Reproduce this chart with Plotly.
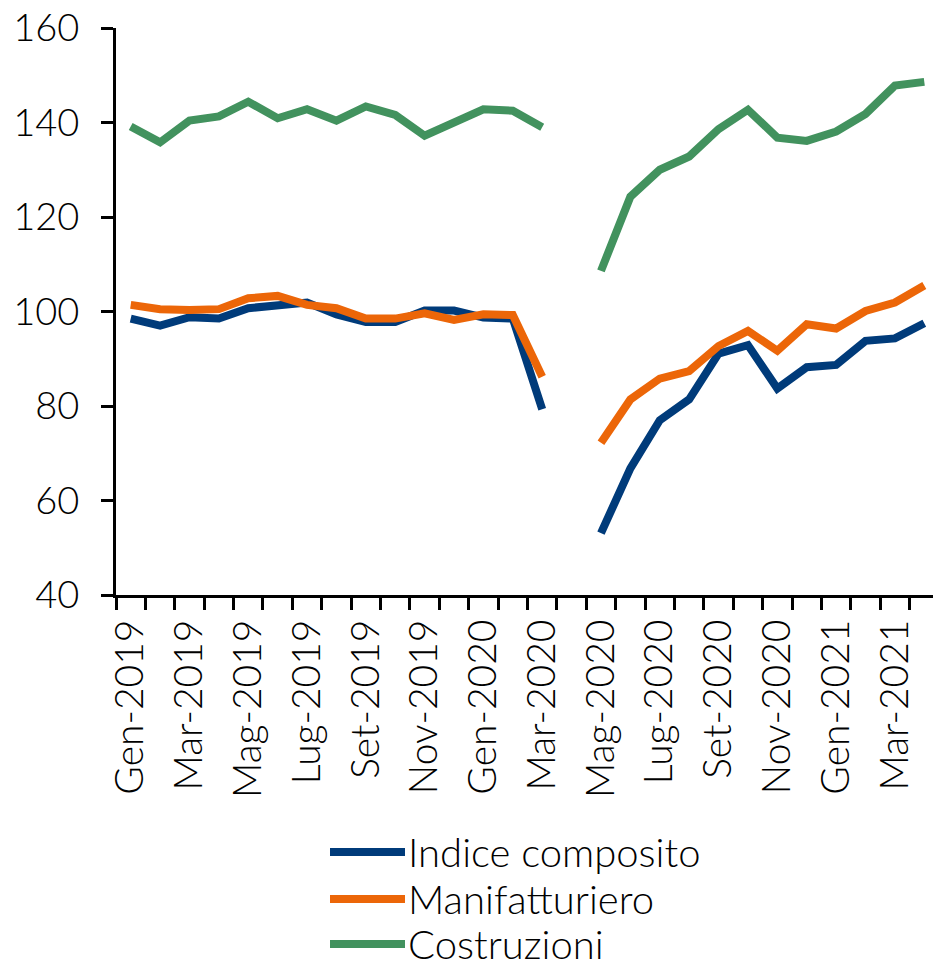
import plotly.graph_objects as go

# Mesi da Gen-2019 a Apr-2021 (Apr-2020 mancante)
mesi = ["Gen", "Feb", "Mar", "Apr", "Mag", "Giu", "Lug", "Ago", "Set", "Ott", "Nov", "Dic"]
categorie = [f"{m}-{a}" for a in (2019, 2020, 2021) for m in mesi][:28]

indice_composito = [98.5, 97.0, 98.8, 98.5, 100.7, 101.2, 101.9, 99.4, 97.8, 97.8, 100.2, 100.2, 98.7, 98.5, 79.3,
                    None,
                    53.1, 66.8, 77.0, 81.4, 91.1, 92.9, 83.7, 88.2, 88.7, 93.8, 94.3, 97.5]
manifatturiero = [101.4, 100.5, 100.3, 100.5, 102.8, 103.3, 101.4, 100.7, 98.5, 98.5, 99.6, 98.2, 99.4, 99.25, 86.2,
                  None,
                  72.2, 81.4, 85.8, 87.4, 92.7, 95.9, 91.7, 97.3, 96.4, 100.1, 101.9, 105.5]
costruzioni = [139.15, 135.8, 140.4, 141.3, 144.4, 140.9, 142.8, 140.4, 143.4, 141.6, 137.2, 140.2, 142.8, 142.5, 139.0,
               None,
               108.6, 124.3, 130.0, 132.8, 138.6, 142.7, 136.8, 136.1, 138.1, 141.8, 147.8, 148.6]

nomi = ["Indice composito", "Manifatturiero", "Costruzioni"]
colori = ["#003B7A", "#EC6608", "#42925E"]
serie = [indice_composito, manifatturiero, costruzioni]

font = "Lato"
peso = 300

fig = go.Figure()
for nome, valori, colore in zip(nomi, serie, colori):
    fig.add_trace(go.Scatter(
        x=categorie, y=valori, mode="lines", name=nome,
        line=dict(color=colore, width=8),
        connectgaps=False, showlegend=False
    ))

# etichette ogni due mesi
ticktext = [c if i % 2 == 0 else "" for i, c in enumerate(categorie)]

# legenda disegnata a mano (linee lunghe come nell'originale)
plot_l, plot_w = 116, 823
plot_b, plot_h = 595, 567
legenda_y = [852, 899, 944]
for nome, colore, py in zip(nomi, colori, legenda_y):
    yp = (plot_b - py) / plot_h
    fig.add_shape(type="line", xref="paper", yref="paper",
                  x0=(330 - plot_l) / plot_w, x1=(405 - plot_l) / plot_w, y0=yp, y1=yp,
                  line=dict(color=colore, width=8))
    fig.add_annotation(text=nome, xref="paper", yref="paper",
                       x=(406 - plot_l) / plot_w, y=yp, xanchor="left", yanchor="middle",
                       showarrow=False, font=dict(family=font, size=40, color="black", weight=peso))

# la pagina html ha un margine di 8px: dimensioni ridotte di conseguenza
fig.update_layout(
    width=933, height=957,
    margin=dict(l=108, r=2, t=20, b=370),
    plot_bgcolor="white", paper_bgcolor="white",
    font=dict(family=font, size=38, color="black", weight=peso),
)
fig.update_xaxes(
    type="category", categoryorder="array", categoryarray=categorie,
    range=[-0.5, 27.5], automargin=False,
    tickmode="array", tickvals=categorie, ticktext=ticktext,
    tickson="boundaries", ticks="outside", ticklen=12, tickwidth=3, tickcolor="black",
    tickangle=-90, tickfont=dict(family=font, size=39, weight=peso),
    showline=True, linewidth=3, linecolor="black",
    showgrid=False, zeroline=False, ticklabelstandoff=6
)
fig.update_yaxes(
    range=[40, 160], dtick=20, tick0=40, automargin=False,
    ticks="outside", ticklen=12, tickwidth=3, tickcolor="black",
    tickfont=dict(family=font, size=38, weight=peso), ticklabeloverflow="allow",
    showline=True, linewidth=3, linecolor="black",
    showgrid=False, zeroline=False, ticklabelstandoff=14
)

fig.write_html("out.html")
